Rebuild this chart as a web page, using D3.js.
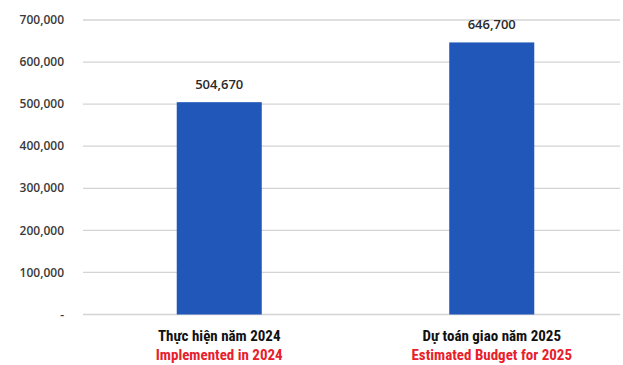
<!DOCTYPE html>
<html lang="vi">
<head>
<meta charset="UTF-8">
<title>Budget chart</title>
<script src="https://d3js.org/d3.v7.min.js"></script>
<style>
  body { margin: 0; background: #fff; }
</style>
</head>
<body>
<svg id="chart"></svg>
<script>
const categoriesVi = ["Thực hiện năm 2024", "Dự toán giao năm 2025"];
const categoriesEn = ["Implemented in 2024", "Estimated Budget for 2025"];
const values = [504670, 646700];
const yTicks = [0, 100000, 200000, 300000, 400000, 500000, 600000, 700000];

const width = 623, height = 365;
const margin = { left: 83, right: -5, top: 20, bottom: 50.5 };

const svg = d3.select("#chart").attr("width", width).attr("height", height);

const x = d3.scaleBand().domain(categoriesVi)
    .range([margin.left, width - margin.right])
    .paddingInner(0.688).paddingOuter(0.344);
const y = d3.scaleLinear().domain([0, 700000]).range([height - margin.bottom, margin.top]);

const fmt = d3.format(",");

// grid lines
svg.append("g").selectAll("line").data(yTicks).join("line")
    .attr("x1", margin.left).attr("x2", 620)
    .attr("y1", d => y(d)).attr("y2", d => y(d))
    .attr("stroke", "#d4d4d4").attr("stroke-width", 1.3);

// y tick labels
svg.append("g").selectAll("text").data(yTicks).join("text")
    .attr("x", 64).attr("y", d => y(d)).attr("dy", "0.35em")
    .attr("text-anchor", "end")
    .attr("font-family", "'Open Sans', sans-serif")
    .attr("font-weight", 600)
    .attr("font-size", 12).attr("fill", "#3a3a3a")
    .text(d => d === 0 ? "-" : fmt(d));

// bars
svg.append("g").selectAll("rect").data(values).join("rect")
    .attr("x", (d, i) => x(categoriesVi[i]))
    .attr("width", x.bandwidth())
    .attr("y", d => y(d))
    .attr("height", d => y(0) - y(d))
    .attr("fill", "#2157b8");

// value labels
svg.append("g").selectAll("text").data(values).join("text")
    .attr("x", (d, i) => x(categoriesVi[i]) + x.bandwidth() / 2)
    .attr("y", d => y(d) - 13)
    .attr("text-anchor", "middle")
    .attr("font-family", "'Open Sans', sans-serif")
    .attr("font-weight", 600)
    .attr("font-size", 13).attr("fill", "#2a2a2a")
    .text(d => fmt(d));

// category labels
const cat = svg.append("g")
    .attr("font-family", "'Liberation Sans Narrow', 'Roboto Condensed', sans-serif")
    .attr("font-weight", "bold")
    .attr("font-size", 15)
    .attr("text-anchor", "middle");
cat.selectAll("text.vi").data(categoriesVi).join("text")
    .attr("class", "vi")
    .attr("x", d => x(d) + x.bandwidth() / 2).attr("y", 341)
    .attr("fill", "#111")
    .text(d => d);
cat.selectAll("text.en").data(categoriesEn).join("text")
    .attr("class", "en")
    .attr("x", (d, i) => x(categoriesVi[i]) + x.bandwidth() / 2).attr("y", 360)
    .attr("fill", "#e8202a")
    .text(d => d);
</script>
</body>
</html>
